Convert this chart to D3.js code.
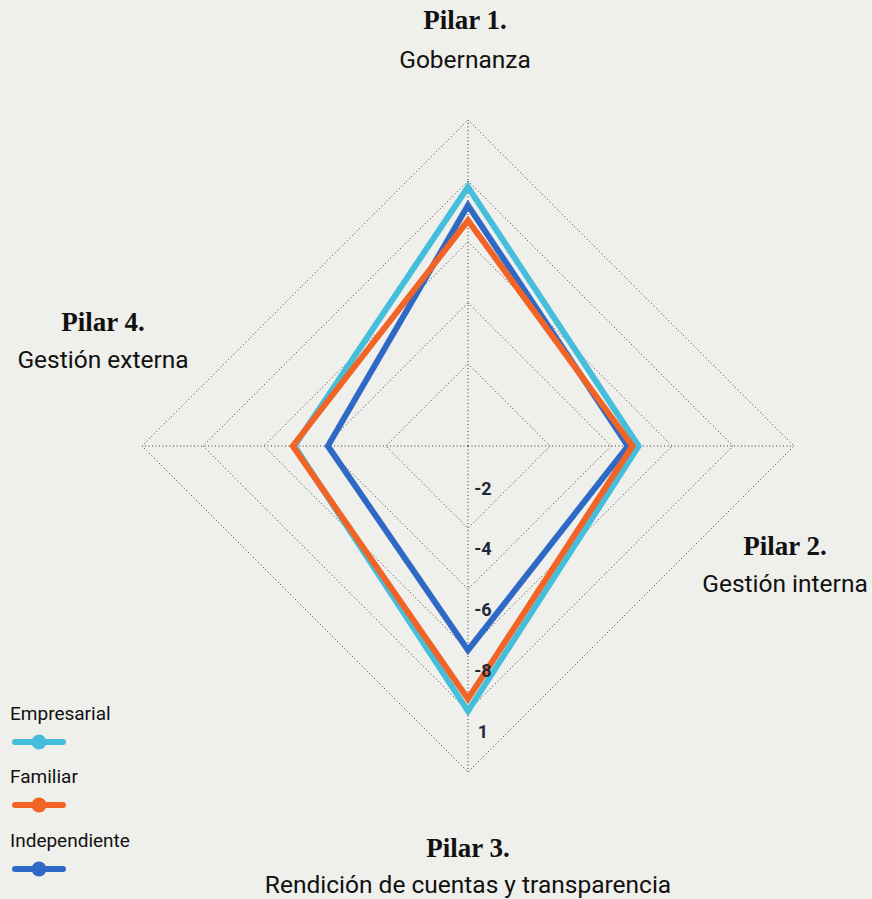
<!DOCTYPE html>
<html>
<head>
<meta charset="utf-8">
<script src="https://cdn.jsdelivr.net/npm/d3@7"></script>
<style>
  html, body { margin: 0; padding: 0; background: #efefeb; }
  svg { display: block; }
</style>
</head>
<body>
<svg id="chart" width="872" height="899"></svg>
<script>
// Pillars (axes), clockwise from the top
const pillars = ["Pilar 1.", "Pilar 2.", "Pilar 3.", "Pilar 4."];
const pillarNames = ["Gobernanza", "Gestión interna", "Rendición de cuentas y transparencia", "Gestión externa"];

// Series values per pillar
const seriesNames = ["Empresarial", "Familiar", "Independiente"];
const empresarial = [0.78, 0.49, 0.80, 0.50];
const familiar = [0.67, 0.47, 0.76, 0.505];
const independiente = [0.72, 0.455, 0.60, 0.39];
const seriesColors = ["#45bedc", "#f26426", "#2f69c6"];

// Grid rings and their labels
const ringValues = [0.2, 0.4, 0.6, 0.8, 1];
const ringLabels = ["-2", "-4", "-6", "-8", "1"];

const svg = d3.select("#chart");
const cx = 468, cy = 446, R = 326;
const sansFont = "Roboto, 'Noto Sans', sans-serif";

const r = d3.scaleLinear().domain([-0.07, 1]).range([0, R]);
const angle = d3.scalePoint().domain(d3.range(pillars.length)).range([0, 2 * Math.PI * 3 / 4]);

const g = svg.append("g").attr("transform", `translate(${cx},${cy})`);

const pt = (i, v) => {
  const a = angle(i);
  return [Math.sin(a) * r(v), -Math.cos(a) * r(v)];
};

// Dotted grid rings
const ringLine = d3.line().curve(d3.curveLinearClosed);
g.selectAll(".ring").data(ringValues).join("path")
  .attr("d", v => ringLine(pillars.map((_, i) => pt(i, v))))
  .attr("fill", "none")
  .attr("stroke", "#3a3a3a")
  .attr("stroke-width", 1)
  .attr("stroke-dasharray", "1,2.5");

// Dotted spokes
g.selectAll(".spoke").data(pillars).join("line")
  .attr("x1", 0).attr("y1", 0)
  .attr("x2", (_, i) => pt(i, 1)[0])
  .attr("y2", (_, i) => pt(i, 1)[1])
  .attr("stroke", "#3a3a3a")
  .attr("stroke-width", 1)
  .attr("stroke-dasharray", "1,2.5");

// Series polygons (Empresarial, Independiente, Familiar from back to front)
const series = [empresarial, independiente, familiar];
const seriesIdx = [0, 2, 1];
const polyLine = d3.line().curve(d3.curveLinearClosed);
g.selectAll(".series").data(series).join("path")
  .attr("d", vals => polyLine(vals.map((v, i) => pt(i, v))))
  .attr("fill", "none")
  .attr("stroke", (_, k) => seriesColors[seriesIdx[k]])
  .attr("stroke-width", 6)
  .attr("stroke-linejoin", "miter")
  .attr("stroke-miterlimit", 10);

// Ring labels along the lower spoke
g.selectAll(".ringLabel").data(ringValues).join("text")
  .attr("x", 15)
  .attr("y", v => r(v) - 40)
  .attr("dy", "0.35em")
  .attr("text-anchor", "middle")
  .attr("font-family", sansFont)
  .attr("font-weight", 700)
  .attr("font-size", 18)
  .attr("fill", "#22283a")
  .text((_, i) => ringLabels[i]);

// Pillar titles
const titles = [
  { x: 465, y1: 29, y2: 68 },
  { x: 785, y1: 555, y2: 592 },
  { x: 468, y1: 857, y2: 893 },
  { x: 103, y1: 331, y2: 368 }
];
pillars.forEach((p, i) => {
  svg.append("text")
    .attr("x", titles[i].x).attr("y", titles[i].y1)
    .attr("text-anchor", "middle")
    .attr("font-family", "'Liberation Serif', 'DejaVu Serif', serif")
    .attr("font-weight", 700)
    .attr("font-size", 27)
    .attr("fill", "#111")
    .text(p);
  svg.append("text")
    .attr("x", titles[i].x).attr("y", titles[i].y2)
    .attr("text-anchor", "middle")
    .attr("font-family", sansFont)
    .attr("font-size", 24.5)
    .attr("fill", "#111")
    .text(pillarNames[i]);
});

// Legend
const legend = svg.append("g").attr("transform", "translate(10,0)");
const legendTextY = [720, 783, 847];
seriesNames.forEach((name, i) => {
  legend.append("text")
    .attr("x", 0).attr("y", legendTextY[i])
    .attr("font-family", sansFont)
    .attr("font-size", 19)
    .attr("fill", "#111")
    .text(name);
  const ly = legendTextY[i] + 22;
  legend.append("line")
    .attr("x1", 5).attr("x2", 53).attr("y1", ly).attr("y2", ly)
    .attr("stroke", seriesColors[i])
    .attr("stroke-width", 6)
    .attr("stroke-linecap", "round");
  legend.append("circle")
    .attr("cx", 29).attr("cy", ly).attr("r", 7.5)
    .attr("fill", seriesColors[i]);
});
</script>
</body>
</html>
